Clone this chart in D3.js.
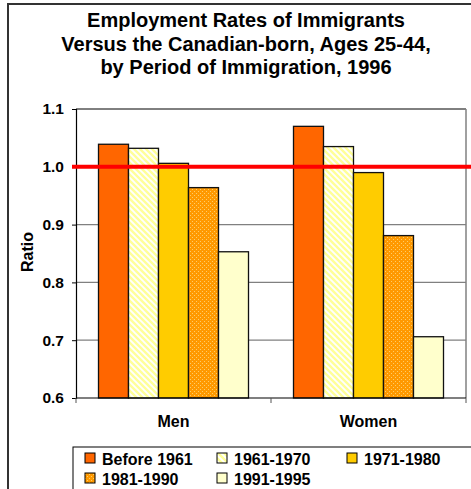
<!DOCTYPE html>
<html>
<head>
<meta charset="utf-8">
<script src="https://d3js.org/d3.v7.min.js"></script>
<style>
  html, body { margin: 0; padding: 0; background: #fff; }
  svg { display: block; font-family: "Liberation Sans", Arial, sans-serif; font-weight: bold; }
</style>
</head>
<body>
<svg id="chart" width="471" height="489"></svg>
<script>
// data
const groups = ['Men', 'Women'];
const periods = ['Before 1961', '1961-1970', '1971-1980', '1981-1990', '1991-1995'];
const men = [1.039, 1.032, 1.006, 0.964, 0.853];
const women = [1.070, 1.035, 0.990, 0.881, 0.706];
const yTicks = [0.6, 0.7, 0.8, 0.9, 1.0, 1.1];
const titleLines = ['Employment Rates of Immigrants', 'Versus the Canadian-born, Ages 25-44,', 'by Period of Immigration, 1996'];
const reference = 1.0;

const fills = ['#FF6600', 'url(#hatch)', '#FFCC00', 'url(#dots)', '#FFFFCC'];

const svg = d3.select('#chart');
const margin = { top: 109, right: 5, bottom: 91, left: 76 };
const W = 471, H = 489;
const innerW = 466 - margin.left;
const innerH = 398 - margin.top;

// patterns
const defs = svg.append('defs');
const hatch = defs.append('pattern').attr('id', 'hatch')
  .attr('patternUnits', 'userSpaceOnUse').attr('width', 6).attr('height', 6);
hatch.append('rect').attr('width', 6).attr('height', 6).attr('fill', '#fff');
hatch.append('path').attr('d', 'M-1,-1 L7,7 M-4,2 L4,10 M2,-4 L10,4')
  .attr('stroke', '#FFFF99').attr('stroke-width', 2.4);

const dots = defs.append('pattern').attr('id', 'dots')
  .attr('patternUnits', 'userSpaceOnUse').attr('width', 4).attr('height', 4);
dots.append('rect').attr('width', 4).attr('height', 4).attr('fill', '#FF9900');
dots.append('rect').attr('x', 0).attr('y', 0).attr('width', 1).attr('height', 1).attr('fill', '#FFCC66');
dots.append('rect').attr('x', 2).attr('y', 2).attr('width', 1).attr('height', 1).attr('fill', '#FFCC66');

// outer frame
svg.append('rect').attr('x', 8).attr('y', 4).attr('width', 500).attr('height', 520)
  .attr('fill', '#fff').attr('stroke', '#333').attr('stroke-width', 2);

// title
svg.append('text').attr('text-anchor', 'middle').attr('font-size', 20)
  .selectAll('tspan').data(titleLines).join('tspan')
  .attr('x', 246).attr('y', (d, i) => 27 + i * 23.5).text(d => d);

const g = svg.append('g').attr('transform', `translate(${margin.left},${margin.top})`);

const x0 = d3.scaleBand().domain(groups).range([0, innerW]).paddingInner(0).paddingOuter(0);
const x1 = d3.scaleBand().domain(periods).range([22.5, x0.bandwidth() - 22.5]);
const y = d3.scaleLinear().domain([0.6, 1.1]).range([innerH, 0]);

// plot border (top black, right gray)
g.append('line').attr('x1', 0).attr('x2', innerW).attr('y1', 0).attr('y2', 0)
  .attr('stroke', '#000').attr('stroke-width', 1);
g.append('line').attr('x1', innerW).attr('x2', innerW).attr('y1', 0).attr('y2', innerH)
  .attr('stroke', '#808080').attr('stroke-width', 1.5);

// gridlines
g.append('g').selectAll('line').data(yTicks.filter(t => t > 0.6 && t < 1.1)).join('line')
  .attr('x1', 0).attr('x2', innerW)
  .attr('y1', d => y(d)).attr('y2', d => y(d))
  .attr('stroke', '#808080').attr('stroke-width', 1.2);

// y axis
const yAxis = g.append('g').call(d3.axisLeft(y).tickValues(yTicks).tickFormat(d3.format('.1f')).tickSize(4).tickPadding(8));
yAxis.select('.domain').attr('stroke', '#000').attr('stroke-width', 1.2);
yAxis.selectAll('.tick line').attr('stroke', '#000');
yAxis.selectAll('text').attr('font-size', 15.5).attr('font-weight', 'bold').attr('font-family', 'Liberation Sans, Arial, sans-serif').attr('fill', '#000');

// bars
const series = [men, women];
groups.forEach((grp, gi) => {
  g.append('g').attr('transform', `translate(${x0(grp)},0)`)
    .selectAll('rect').data(series[gi]).join('rect')
    .attr('x', (d, i) => x1(periods[i]))
    .attr('width', x1.bandwidth())
    .attr('y', d => y(d))
    .attr('height', d => innerH - y(d))
    .attr('fill', (d, i) => fills[i])
    .attr('stroke', '#111').attr('stroke-width', 1.3);
});

// x axis
const xTickScale = d3.scaleLinear().domain([0, 2]).range([0, innerW]);
const xAxisG = g.append('g').attr('transform', `translate(0,${innerH})`);
xAxisG.append('line').attr('x1', 0).attr('x2', innerW).attr('stroke', '#000').attr('stroke-width', 1.2);
xAxisG.selectAll('line.tk').data([0, 1, 2]).join('line').attr('class', 'tk')
  .attr('x1', d => xTickScale(d)).attr('x2', d => xTickScale(d))
  .attr('y1', 0).attr('y2', 5).attr('stroke', '#555');
xAxisG.selectAll('text').data(groups).join('text')
  .attr('x', d => x0(d) + x0.bandwidth() / 2).attr('y', 29)
  .attr('text-anchor', 'middle').attr('font-size', 16).text(d => d);

// reference line at 1.0
g.append('line').attr('x1', -4).attr('x2', W - margin.left)
  .attr('y1', y(reference)).attr('y2', y(reference))
  .attr('stroke', '#FF0000').attr('stroke-width', 4);

// y title
svg.append('text').attr('transform', 'translate(33,252) rotate(-90)')
  .attr('text-anchor', 'middle').attr('font-size', 16).text('Ratio');

// legend
const lg = svg.append('g');
lg.append('rect').attr('x', 73).attr('y', 447).attr('width', 420).attr('height', 60)
  .attr('fill', '#fff').attr('stroke', '#000').attr('stroke-width', 1);
const colX = [85, 217, 347];
const rowY = [458, 478];
const items = lg.selectAll('g.item').data(periods).join('g').attr('class', 'item')
  .attr('transform', (d, i) => `translate(${colX[i % 3]},${rowY[Math.floor(i / 3)]})`);
items.append('rect').attr('x', 0).attr('y', -5).attr('width', 10).attr('height', 10)
  .attr('fill', (d, i) => fills[i]).attr('stroke', '#000').attr('stroke-width', 1);
items.append('text').attr('x', 17).attr('y', 6.5).attr('font-size', 16).text(d => d);
</script>
</body>
</html>
